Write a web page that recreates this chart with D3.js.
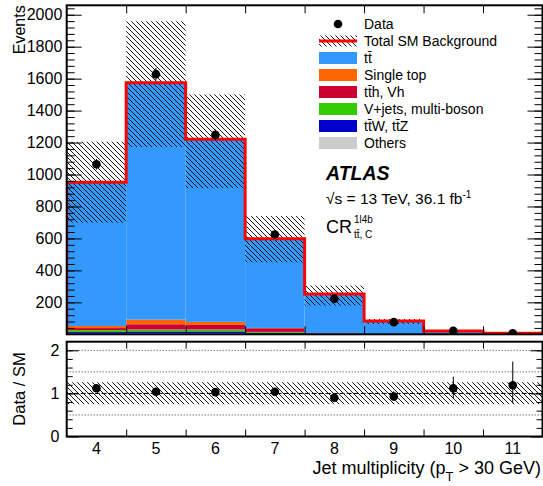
<!DOCTYPE html>
<html>
<head>
<meta charset="utf-8">
<script src="https://cdn.jsdelivr.net/npm/d3@7"></script>
<style>
  body { margin: 0; background: #fff; }
  svg { display: block; font-family: "Liberation Sans", Arial, sans-serif; }
  .axis path.domain { display: none; }
  .axis line { stroke: #000; stroke-width: 1; }
</style>
</head>
<body>
<svg id="chart" width="543" height="486"></svg>
<script>
/* DATA */
const jets = [4, 5, 6, 7, 8, 9, 10, 11];

// stacked backgrounds, bottom -> top
const others    = [4, 6, 6, 3, 1, 0.5, 0.2, 0.1];
const ttV       = [10, 12, 12, 6, 1.5, 0.5, 0.2, 0.1];
const vjets     = [12, 12, 12, 6, 1, 0.3, 0.1, 0];
const ttH       = [13, 33, 29, 23, 3, 1, 0.3, 0.1];
const singleTop = [13, 29, 19, 2, 1, 0.5, 0.2, 0.1];
const ttbar     = [900, 1483, 1142, 558, 245, 80, 19, 5.6];

// total SM uncertainty band (events)
const bandLow  = [699, 1172, 915, 451, 180, 65, 15, 4];
const bandHigh = [1205, 1959, 1501, 740, 305, 96, 25, 8];

// data
const dataEvents = [1064, 1628, 1248, 625, 223, 76, 22, 7];
const dataErr    = [33, 40, 35, 25, 15, 9, 5, 3];

// ratio panel
const ratio        = [1.12, 1.04, 1.03, 1.04, 0.90, 0.93, 1.12, 1.19];
const ratioErrUp   = [0.04, 0.03, 0.03, 0.05, 0.07, 0.12, 0.27, 0.55];
const ratioErrDown = [0.04, 0.03, 0.03, 0.05, 0.07, 0.11, 0.23, 0.42];
const ratioBandLow  = [0.75, 0.75, 0.75, 0.75, 0.75, 0.75, 0.75, 0.75];
const ratioBandHigh = [1.26, 1.26, 1.26, 1.26, 1.26, 1.26, 1.26, 1.26];

const eventTicks = [200, 400, 600, 800, 1000, 1200, 1400, 1600, 1800, 2000];
const ratioTicks = [0, 1, 2];
const ratioRefLines = [0.5, 1.5, 2];

const layers = [
  {name: "Others",              values: others,    color: "#cccccc"},
  {name: "t\u0074\u0304W, t\u0074\u0304Z", values: ttV, color: "#0000cc"},
  {name: "V+jets, multi-boson", values: vjets,     color: "#33cc00"},
  {name: "t\u0074\u0304h, Vh",  values: ttH,       color: "#cc0033"},
  {name: "Single top",          values: singleTop, color: "#ff6600"},
  {name: "t\u0074\u0304",       values: ttbar,     color: "#3399ff"}
];

/* LAYOUT */
const left = 66.7, right = 542.5;
const mainTop = 5.3, mainBottom = 334.3;
const ratioTop = 341.7, ratioBottom = 436.5;

const svg = d3.select("#chart");

const defs = svg.append("defs");
defs.append("pattern")
  .attr("id", "hatch")
  .attr("patternUnits", "userSpaceOnUse")
  .attr("width", 5).attr("height", 5)
  .append("path")
    .attr("d", "M-1,-1 L6,6 M-1,4 L1,6 M4,-1 L6,1")
    .attr("stroke", "#000")
    .attr("stroke-width", 0.9);

defs.append("clipPath").attr("id", "clip-main")
  .append("rect").attr("x", left).attr("y", mainTop)
  .attr("width", right - left).attr("height", mainBottom - mainTop);

defs.append("clipPath").attr("id", "clip-ratio")
  .append("rect").attr("x", left).attr("y", ratioTop)
  .attr("width", right - left).attr("height", ratioBottom - ratioTop);

const x = d3.scaleLinear().domain([3.5, 11.5]).range([left, right]);
const y = d3.scaleLinear().domain([0, 2059]).range([mainBottom, mainTop]);
const yr = d3.scaleLinear().domain([0, 2.2]).range([ratioBottom, ratioTop]);

/* MAIN PANEL */
const main = svg.append("g").attr("clip-path", "url(#clip-main)");

// stack the backgrounds
const rows = jets.map((j, i) => {
  const r = {jet: j};
  layers.forEach((l) => r[l.name] = l.values[i]);
  return r;
});
const stack = d3.stack().keys(layers.map((l) => l.name))(rows);

main.selectAll(".layer")
  .data(stack)
  .enter()
  .append("g")
    .attr("class", "layer")
    .attr("fill", (d, i) => layers[i].color)
  .selectAll("rect")
  .data((d) => d)
  .enter()
  .append("rect")
    .attr("x", (d) => x(d.data.jet - 0.5))
    .attr("width", (d) => x(d.data.jet + 0.5) - x(d.data.jet - 0.5))
    .attr("y", (d) => y(d[1]))
    .attr("height", (d) => Math.max(0, y(d[0]) - y(d[1])));

// uncertainty hatch
main.selectAll(".band")
  .data(jets)
  .enter()
  .append("rect")
    .attr("class", "band")
    .attr("x", (d) => x(d - 0.5))
    .attr("width", (d) => x(d + 0.5) - x(d - 0.5))
    .attr("y", (d, i) => y(bandHigh[i]))
    .attr("height", (d, i) => y(bandLow[i]) - y(bandHigh[i]))
    .attr("fill", "url(#hatch)");

// total SM outline
const totals = stack[stack.length - 1].map((d) => d[1]);
const outline = [[3.5, 0]];
jets.forEach((j, i) => {
  outline.push([j - 0.5, totals[i]]);
  outline.push([j + 0.5, totals[i]]);
});
main.append("path")
  .attr("d", d3.line().x((d) => x(d[0])).y((d) => y(d[1]))(outline))
  .attr("fill", "none")
  .attr("stroke", "#ff0000")
  .attr("stroke-width", 3);

// data points
main.selectAll(".data-err")
  .data(jets)
  .enter()
  .append("line")
    .attr("x1", (d) => x(d)).attr("x2", (d) => x(d))
    .attr("y1", (d, i) => y(dataEvents[i] + dataErr[i]))
    .attr("y2", (d, i) => y(dataEvents[i] - dataErr[i]))
    .attr("stroke", "#000");

main.selectAll(".data-pt")
  .data(jets)
  .enter()
  .append("circle")
    .attr("cx", (d) => x(d))
    .attr("cy", (d, i) => y(dataEvents[i]))
    .attr("r", 4.3)
    .attr("fill", "#000");

/* AXES MAIN */
const binEdges = d3.range(4.5, 11, 1);

svg.append("g").attr("class", "axis")
  .attr("transform", `translate(${left},0)`)
  .call(d3.axisLeft(y).tickValues(d3.range(40, 2059, 40)).tickSize(-8).tickFormat(""));
svg.append("g").attr("class", "axis")
  .attr("transform", `translate(${left},0)`)
  .call(d3.axisLeft(y).tickValues(eventTicks).tickSize(-15).tickPadding(4.4).tickFormat(d3.format("d")))
  .selectAll("text")
    .attr("font-size", 16)
    .attr("font-family", "Liberation Sans, Arial, sans-serif")
    .attr("fill", "#000");
svg.append("g").attr("class", "axis")
  .attr("transform", `translate(${right},0)`)
  .call(d3.axisRight(y).tickValues(d3.range(40, 2059, 40)).tickSize(-8).tickFormat(""));
svg.append("g").attr("class", "axis")
  .attr("transform", `translate(${right},0)`)
  .call(d3.axisRight(y).tickValues(eventTicks).tickSize(-15).tickFormat(""));

svg.append("g").attr("class", "axis")
  .attr("transform", `translate(0,${mainTop})`)
  .call(d3.axisTop(x).tickValues(binEdges).tickSize(-8).tickFormat(""));
svg.append("g").attr("class", "axis")
  .attr("transform", `translate(0,${mainBottom})`)
  .call(d3.axisBottom(x).tickValues(binEdges).tickSize(-8).tickFormat(""));

svg.append("rect")
  .attr("x", left).attr("y", mainTop)
  .attr("width", right - left).attr("height", mainBottom - mainTop)
  .attr("fill", "none").attr("stroke", "#000").attr("stroke-width", 2);

svg.append("text")
  .attr("transform", `translate(25,${mainTop}) rotate(-90)`)
  .attr("text-anchor", "end")
  .attr("font-size", 16)
  .text("Events");

/* LEGEND */
const legX = 319, legW = 38, legTextX = 364, legY0 = 24, legDy = 17;
const legend = svg.append("g");

legend.append("circle").attr("cx", legX + legW / 2).attr("cy", legY0).attr("r", 4.3).attr("fill", "#000");
legend.append("rect")
  .attr("x", legX).attr("y", legY0 + legDy - 5.5).attr("width", legW).attr("height", 11)
  .attr("fill", "url(#hatch)");
legend.append("line")
  .attr("x1", legX).attr("x2", legX + legW)
  .attr("y1", legY0 + legDy).attr("y2", legY0 + legDy)
  .attr("stroke", "#ff0000").attr("stroke-width", 3);

const legLayers = layers.slice().reverse();
legend.selectAll(".leg-box")
  .data(legLayers)
  .enter()
  .append("rect")
    .attr("x", legX)
    .attr("y", (d, i) => legY0 + (i + 2) * legDy - 6)
    .attr("width", legW).attr("height", 12)
    .attr("fill", (d) => d.color);

const legNames = ["Data", "Total SM Background"].concat(legLayers.map((d) => d.name));
legend.selectAll(".leg-text")
  .data(legNames)
  .enter()
  .append("text")
    .attr("x", legTextX)
    .attr("y", (d, i) => legY0 + i * legDy + 5)
    .attr("font-size", 14)
    .text((d) => d);

// labels
svg.append("text")
  .attr("x", 326).attr("y", 180)
  .attr("font-size", 19.5).attr("font-weight", "bold").attr("font-style", "italic")
  .text("ATLAS");

const lumi = svg.append("text").attr("x", 326).attr("y", 204).attr("font-size", 15.5);
lumi.append("tspan").text("\u221As = 13 TeV, 36.1 fb");
lumi.append("tspan").attr("font-size", 10).attr("dy", -6).text("-1");

const cr = svg.append("g");
cr.append("text").attr("x", 326).attr("y", 233).attr("font-size", 18).text("CR");
cr.append("text").attr("x", 354).attr("y", 223).attr("font-size", 10).text("1l4b");
cr.append("text").attr("x", 354).attr("y", 238).attr("font-size", 10).text("t\u0074\u0304, C");

/* RATIO PANEL */
const rp = svg.append("g").attr("clip-path", "url(#clip-ratio)");

rp.selectAll(".ratio-band")
  .data(jets)
  .enter()
  .append("rect")
    .attr("x", (d) => x(d - 0.5))
    .attr("width", (d) => x(d + 0.5) - x(d - 0.5))
    .attr("y", (d, i) => yr(ratioBandHigh[i]))
    .attr("height", (d, i) => yr(ratioBandLow[i]) - yr(ratioBandHigh[i]))
    .attr("fill", "url(#hatch)");

rp.selectAll(".ref-line")
  .data(ratioRefLines)
  .enter()
  .append("line")
    .attr("x1", left).attr("x2", right)
    .attr("y1", (d) => yr(d)).attr("y2", (d) => yr(d))
    .attr("stroke", "#000").attr("stroke-width", 0.8)
    .attr("stroke-dasharray", "1,2");

rp.append("line")
  .attr("x1", left).attr("x2", right)
  .attr("y1", yr(1)).attr("y2", yr(1))
  .attr("stroke", "#000").attr("stroke-width", 1)
  .attr("stroke-dasharray", "5,2");

rp.selectAll(".ratio-err")
  .data(jets)
  .enter()
  .append("line")
    .attr("x1", (d) => x(d)).attr("x2", (d) => x(d))
    .attr("y1", (d, i) => yr(ratio[i] + ratioErrUp[i]))
    .attr("y2", (d, i) => yr(ratio[i] - ratioErrDown[i]))
    .attr("stroke", "#000");

rp.selectAll(".ratio-pt")
  .data(jets)
  .enter()
  .append("circle")
    .attr("cx", (d) => x(d))
    .attr("cy", (d, i) => yr(ratio[i]))
    .attr("r", 4.3)
    .attr("fill", "#000");

svg.append("g").attr("class", "axis")
  .attr("transform", `translate(${left},0)`)
  .call(d3.axisLeft(yr).tickValues(d3.range(0.2, 2.2, 0.2)).tickSize(-6).tickFormat(""));
svg.append("g").attr("class", "axis")
  .attr("transform", `translate(${left},0)`)
  .call(d3.axisLeft(yr).tickValues(ratioTicks).tickSize(-12).tickPadding(7.2).tickFormat(d3.format("d")))
  .selectAll("text")
    .attr("font-size", 16)
    .attr("font-family", "Liberation Sans, Arial, sans-serif")
    .attr("fill", "#000");
svg.append("g").attr("class", "axis")
  .attr("transform", `translate(${right},0)`)
  .call(d3.axisRight(yr).tickValues(d3.range(0.2, 2.2, 0.2)).tickSize(-6).tickFormat(""));
svg.append("g").attr("class", "axis")
  .attr("transform", `translate(${right},0)`)
  .call(d3.axisRight(yr).tickValues(ratioTicks).tickSize(-12).tickFormat(""));

svg.append("g").attr("class", "axis")
  .attr("transform", `translate(0,${ratioTop})`)
  .call(d3.axisTop(x).tickValues(binEdges).tickSize(-7).tickFormat(""));
svg.append("g").attr("class", "axis")
  .attr("transform", `translate(0,${ratioBottom})`)
  .call(d3.axisBottom(x).tickValues(binEdges).tickSize(-7).tickFormat(""));

svg.append("rect")
  .attr("x", left).attr("y", ratioTop)
  .attr("width", right - left).attr("height", ratioBottom - ratioTop)
  .attr("fill", "none").attr("stroke", "#000").attr("stroke-width", 2);

// x labels
svg.selectAll(".jet-label")
  .data(jets)
  .enter()
  .append("text")
    .attr("x", (d) => x(d))
    .attr("y", 453.5)
    .attr("text-anchor", "middle")
    .attr("font-size", 16)
    .text((d) => d);

const xTitle = svg.append("text")
  .attr("x", 541).attr("y", 473.5)
  .attr("text-anchor", "end")
  .attr("font-size", 18);
xTitle.append("tspan").text("Jet multiplicity (p");
xTitle.append("tspan").attr("font-size", 13).attr("dy", 7).text("T");
xTitle.append("tspan").attr("dy", -7).text(" > 30 GeV)");

svg.append("text")
  .attr("transform", `translate(25,389) rotate(-90)`)
  .attr("text-anchor", "middle")
  .attr("font-size", 16.5)
  .text("Data / SM");
</script>
</body>
</html>
